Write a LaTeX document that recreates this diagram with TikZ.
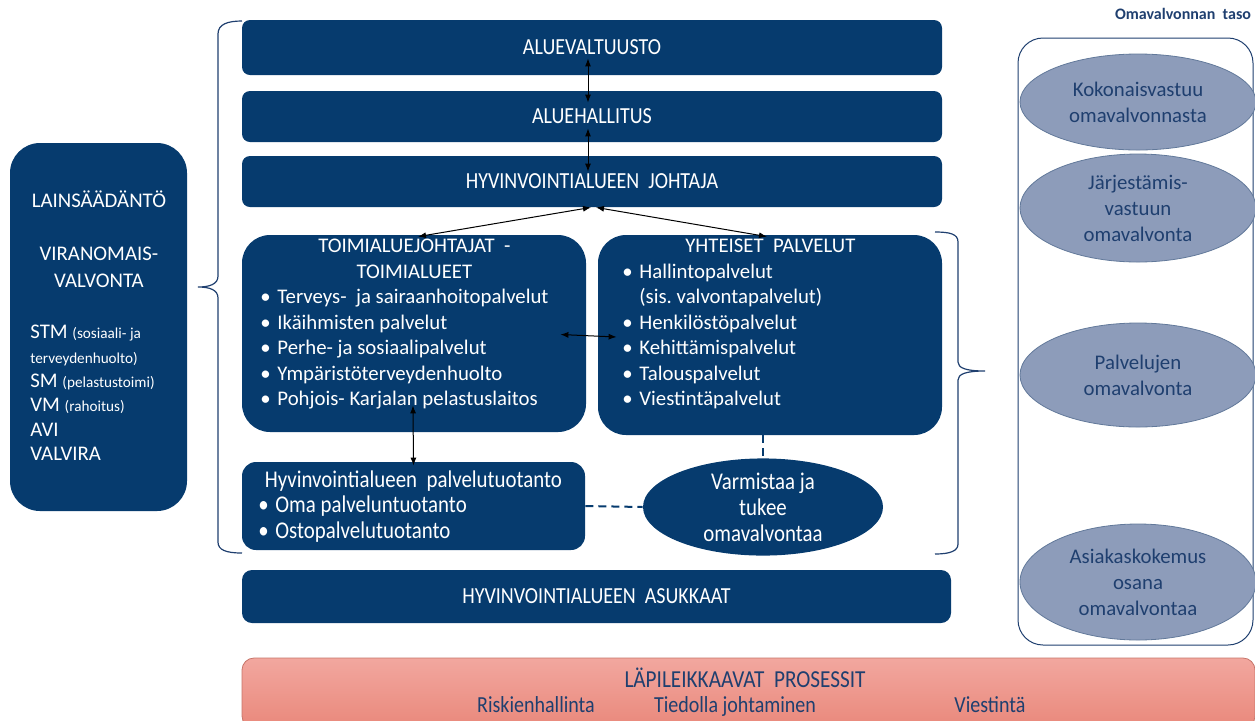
\documentclass[tikz,border=0pt]{standalone}
\usepackage{fontspec}
\setmainfont{Carlito}
\newfontfamily\cond[FakeStretch=0.87]{Carlito}
\usetikzlibrary{arrows.meta,shapes.geometric}
\definecolor{navy}{HTML}{063B6E}
\definecolor{lilac}{HTML}{8D9CBA}
\definecolor{inkblue}{HTML}{1F3F6F}
\definecolor{salmontop}{HTML}{F2A79F}
\definecolor{salmonbot}{HTML}{E9887B}
\def\bul{\makebox[8.5pt][l]{\textbullet}}
\def\sm#1{{\fontsize{7.6}{9}\selectfont#1}}
\def\nosp{\spaceskip=0pt\xspaceskip=0pt\frenchspacing}

\begin{document}
\begin{tikzpicture}[x=0.5pt,y=-0.5pt,
    bar/.style={fill=navy, text=white, rounded corners=4pt, minimum width=350pt,
      minimum height=26pt, inner sep=0pt, font=\cond\fontsize{11.5}{13}\selectfont},
    blk/.style={fill=navy, inner sep=0pt},
    txt/.style={text=white, inner sep=0pt, align=left, font=\fontsize{10.4}{12.75}\selectfont,
      execute at begin node=\nosp},
    lev/.style={ellipse, fill=lilac, draw=inkblue!70, line width=0.4pt, minimum width=118pt,
      inner sep=0pt, align=center, text=inkblue, font=\fontsize{10.4}{13}\selectfont},
    dbl/.style={{Latex[length=4pt,width=3pt]}-{Latex[length=4pt,width=3pt]}, line width=0.5pt},
    dsh/.style={navy, line width=1pt, dash pattern=on 4pt off 2.5pt},
    brc/.style={draw=inkblue, line width=0.6pt}]
\useasboundingbox (0,0) rectangle (1255,720);
\clip (0,0) rectangle (1255,720);

% johto
\node[bar, minimum height=27.5pt] (valt) at (592,47.5) {ALUEVALTUUSTO};
\node[bar, minimum height=25.5pt] (hall) at (592,116.5) {ALUEHALLITUS};
\node[bar, minimum height=25.5pt] (joht) at (592,181.5) {HYVINVOINTIALUEEN\ \ JOHTAJA};

% toimialueet ja yhteiset palvelut
\node[blk, rounded corners=14pt, minimum width=172pt, minimum height=98.5pt] (toimi) at (414,333.5) {};
\node[txt, text width=154pt, anchor=north west] (toimitxt) at (260,239) {%
  {\centering TOIMIALUEJOHTAJAT\ \ -\par TOIMIALUEET\par}
  \bul Terveys-\ \ ja sairaanhoitopalvelut\par
  \bul Ikäihmisten palvelut\par
  \bul Perhe- ja sosiaalipalvelut\par
  \bul Ympäristöterveydenhuolto\par
  \bul Pohjois- Karjalan pelastuslaitos};
\node[blk, rounded corners=14pt, minimum width=172pt, minimum height=100pt] (yht) at (770,335) {};
\node[txt, text width=148pt, anchor=north west] (yhttxt) at (622,239) {%
  {\centering YHTEISET\ \ PALVELUT\par}
  \bul Hallintopalvelut\par
  \hspace*{8.5pt}(sis. valvontapalvelut)\par
  \bul Henkilöstöpalvelut\par
  \bul Kehittämispalvelut\par
  \bul Talouspalvelut\par
  \bul Viestintäpalvelut};

% tuotanto
\node[blk, rounded corners=7pt, minimum width=171.5pt, minimum height=44pt] (tuot) at (413.5,506) {};
\node[txt, text width=155pt, anchor=north west, font=\cond\fontsize{12}{12.75}\selectfont] (tuottxt) at (258,470) {%
  {\centering Hyvinvointialueen\ \ palvelutuotanto\par}
  \bul Oma palveluntuotanto\par
  \bul Ostopalvelutuotanto};
\node[ellipse, fill=navy, text=white, minimum width=120pt, minimum height=45pt, inner sep=0pt,
  align=center, font=\cond\fontsize{12}{13}\selectfont] (varm) at (763,507)
  {Varmistaa ja\\ tukee\\ omavalvontaa};

\node[bar, rounded corners=5pt, minimum width=354.5pt, minimum height=26.5pt] (asuk) at (596.5,596.5)
  {HYVINVOINTIALUEEN\ \ ASUKKAAT};

% yhteydet
\draw[dbl] ([xshift=-2pt,yshift=8.5pt]valt.south) -- ([xshift=-2pt,yshift=-6pt]hall.north);
\draw[dbl] ([xshift=-2pt,yshift=7pt]hall.south) -- ([xshift=-2pt,yshift=-8pt]joht.north);
\draw[dbl] ([xshift=-0.5pt]joht.south) -- ([xshift=2pt,yshift=-1pt]toimi.north);
\draw[dbl] ([xshift=2pt]joht.south) -- ([xshift=-1.5pt,yshift=-1pt]yht.north);
\draw[dbl] ([xshift=-13pt,yshift=-0.5pt]toimi.east) -- ([xshift=9.5pt,yshift=-1pt]yht.west);
\draw[dbl] ([xshift=-0.5pt,yshift=13.5pt]toimi.south) -- ([yshift=-2pt]tuot.north);
\draw[dsh] ([xshift=-3.5pt]yht.south) -- (varm.north);
\draw[dsh] (tuot.east) -- (varm.west);

% sulut
\draw[brc] (242,21) .. controls (228,21) and (218,24) .. (218,34) -- (218,276)
  .. controls (218,284) and (210,287) .. (198,287) .. controls (210,287) and (218,290) .. (218,298)
  -- (218,542) .. controls (218,550) and (226,553) .. (242,553);
\draw[brc] (935,232) .. controls (950,232) and (958,234) .. (958,242) -- (958,362)
  .. controls (958,368) and (966,371) .. (985,371) .. controls (966,371) and (958,374) .. (958,380)
  -- (958,544) .. controls (958,551) and (950,554) .. (935,554);

% valvonta
\node[blk, rounded corners=15pt, minimum width=88.5pt, minimum height=184pt] (laki) at (98.5,327) {};
\node[txt, text width=68.5pt, anchor=north west, font=\fontsize{10.4}{12.2}\selectfont] (lakitxt) at (30,190) {%
  {\centering LAINSÄÄDÄNTÖ\par\vspace{14.5pt}
   VIRANOMAIS-\par\vspace{1.3pt}VALVONTA\par\vspace{13.4pt}}
  STM \sm{(sosiaali- ja}\par
  \sm{terveydenhuolto)}\par
  SM \sm{(pelastustoimi)}\par
  VM \sm{(rahoitus)}\par
  AVI\par
  VALVIRA};

% omavalvonnan taso
\node[text=inkblue, inner sep=0pt, font=\bfseries\fontsize{8}{10}\selectfont] (otsikko) at (1183,14) {Omavalvonnan\ \ taso};
\node[draw=inkblue, line width=0.5pt, rounded corners=12.5pt, minimum width=117.5pt,
  minimum height=303.5pt] (taso) at (1135.5,341.5) {};
\node[lev, minimum height=48pt] (koko) at (1138,102) {Kokonaisvastuu\\ omavalvonnasta};
\node[lev, minimum height=54pt] (jarj) at (1138,208) {Järjestämis-\\ vastuun\\ omavalvonta};
\node[lev, minimum height=52pt] (palv) at (1138,375) {Palvelujen\\ omavalvonta};
\node[lev, minimum height=58pt] (asia) at (1138,582) {Asiakaskokemus\\ osana\\ omavalvontaa};

% prosessit
\node[top color=salmontop, bottom color=salmonbot, draw=salmonbot!85!black, line width=0.4pt,
  rounded corners=6pt, minimum width=506.5pt, minimum height=35pt] (proc) at (748.5,693) {};
\begin{scope}[text=inkblue, font=\cond\fontsize{11.5}{13}\selectfont, anchor=base]
\node[font=\cond\fontsize{12.2}{13}\selectfont] (prosessit) at (745,687) {LÄPILEIKKAAVAT\ \ PROSESSIT};
\node (riski) at (536,712) {Riskienhallinta};
\node (tieto) at (735,712) {Tiedolla johtaminen};
\node (viesti) at (990,712) {Viestintä};
\end{scope}
\end{tikzpicture}
\end{document}
